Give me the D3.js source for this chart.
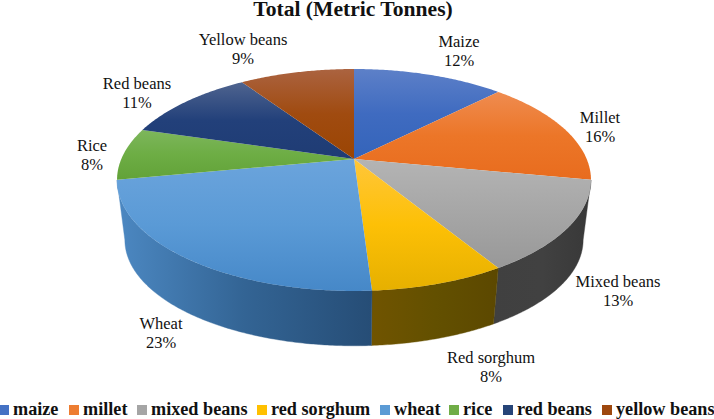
<!DOCTYPE html>
<html><head><meta charset="utf-8">
<style>html,body{margin:0;padding:0;background:#fff;overflow:hidden}svg{display:block}text{font-family:"Liberation Serif","Times New Roman",serif;fill:#111}</style>
<script src="https://cdn.jsdelivr.net/npm/d3@7"></script>
</head><body><svg id="c" width="714" height="419"></svg>
<script>
const categories = ["maize","millet","mixed beans","red sorghum","wheat","rice","red beans","yellow beans"];
const labelNames = ["Maize","Millet","Mixed beans","Red sorghum","Wheat","Rice","Red beans","Yellow beans"];
const shares = [12.4,15.6,13.3,7.7,23,7.6,11,9.4];
const title = "Total (Metric Tonnes)";

// styling
const legendColors = ["#4472C4","#ED7D31","#A5A5A5","#FFC000","#5B9BD5","#70AD47","#264478","#9E480E"];
const topStops = [
 ["#5d80c8","#3f6bc0","#3464ba"],["#ef8c50","#ec7628","#e86c1e"],["#b4b4b4","#a6a6a6","#989898"],
 ["#ffc63a","#fdc006","#e6b000"],["#6ba4dc","#5a9ad6","#4688c8"],["#7db65c","#6dad44","#62a238"],
 ["#4f648f","#22407a","#1f3c74"],["#ab6340","#a04b10","#9b4503"]];
const sideStops = {2:["#404040","#414141","#383838"],3:["#705400","#635000","#5c4800"],4:["#4c88c2","#336494","#264d76"]};

// layout
const labelPos = [[459,47],[600,123],[618,287],[491,363],[161,329],[92,151],[137,89],[243,45]];
const legendX = [-1,69,137,257,380,449,503,602];
const k=0.189;
const topFace={x:354,y:159,a:107,b:232.7}, botFace={x:354,y:220,a:102,b:225};
const project=(f,t)=>{const u=Math.sin(t),v=-Math.cos(t),d=1-k*v;return [f.x+f.b*u/d,f.y+f.a*v/d];};
const line=d3.line();
const arcPts=(f,t0,t1)=>{const n=Math.max(2,Math.ceil((t1-t0)/0.01));return d3.range(n+1).map(i=>project(f,t0+(t1-t0)*i/n));};

const svg=d3.select("#c");
const defs=svg.append("defs");
function grad(id,stops,x2,y2){
  const g=defs.append("linearGradient").attr("id",id).attr("x1",0).attr("y1",0).attr("x2",x2).attr("y2",y2);
  stops.forEach((c,i)=>g.append("stop").attr("offset",[0,0.5,1][i]).attr("stop-color",c));
}
topStops.forEach((s,i)=>grad("t"+i,s,0,1));
Object.keys(sideStops).forEach(i=>grad("s"+i,sideStops[i],1,0));

const pie=d3.pie().sort(null).value(d=>d).startAngle(0).endAngle(2*Math.PI);
const arcs=pie(shares);
const silR=Math.acos(-k), silL=2*Math.PI-silR;

// side wall
arcs.forEach((a,i)=>{
  const t0=Math.max(a.startAngle,silR), t1=Math.min(a.endAngle,silL);
  if(t1<=t0) return;
  const pts=arcPts(topFace,t0,t1).concat(arcPts(botFace,t0,t1).reverse());
  svg.append("path").attr("d",line(pts)+"Z").attr("fill","url(#s"+i+")")
     .attr("stroke","url(#s"+i+")").attr("stroke-width",0.4);
});
// top face
arcs.forEach((a,i)=>{
  const pts=[[topFace.x,topFace.y]].concat(arcPts(topFace,a.startAngle,a.endAngle));
  svg.append("path").attr("d",line(pts)+"Z").attr("fill","url(#t"+i+")");
});
// title
svg.append("text").attr("x",353).attr("y",16).attr("text-anchor","middle")
  .attr("font-size",21.6).attr("font-weight","bold").text(title);
// labels
labelNames.forEach((n,i)=>{
  const [x,y]=labelPos[i];
  const t=svg.append("text").attr("text-anchor","middle").attr("font-size",16.5);
  t.append("tspan").attr("x",x).attr("y",y).text(n);
  t.append("tspan").attr("x",x).attr("y",y+18.7).text(Math.round(shares[i])+"%");
});
// legend
categories.forEach((c,i)=>{
  svg.append("rect").attr("x",Math.max(0,legendX[i])).attr("y",405).attr("width",legendX[i]<0?9:10).attr("height",10).attr("fill",legendColors[i]);
  svg.append("text").attr("x",legendX[i]+14).attr("y",415).attr("font-size",18.2).attr("font-weight","bold").text(c);
});
</script></body></html>
